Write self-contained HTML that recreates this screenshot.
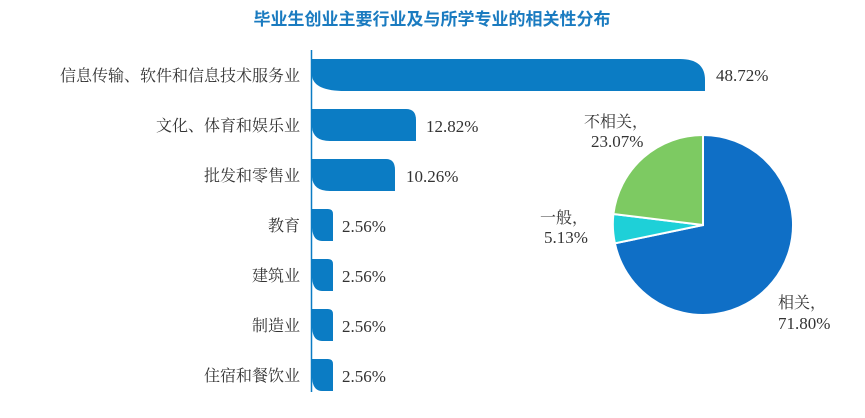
<!DOCTYPE html>
<html><head><meta charset="utf-8"><style>
body{margin:0;background:#fff;}
svg text{font-family:"Liberation Serif","Noto Serif CJK SC",serif;font-size:16px;fill:#333;}
svg text.v{font-size:17px;}
</style></head><body>
<svg width="865" height="413" viewBox="0 0 865 413" xmlns="http://www.w3.org/2000/svg">
<text x="432" y="25" text-anchor="middle" style="font-family:'Liberation Sans','Noto Sans CJK SC',sans-serif;font-size:17px;font-weight:bold;fill:#1a7bc0">毕业生创业主要行业及与所学专业的相关性分布</text>
<line x1="311.5" y1="50" x2="311.5" y2="392" stroke="#0b7cc4" stroke-width="1.5"/>
<g fill="#0b7cc4">
<path d="M312,59 H680 Q705,59 705,80 V91 H345 Q314,91 312,76 Z"/>
<path d="M312,109 H406 Q416,109 416,120 V141 H330 Q313,141 312,127 Z"/>
<path d="M312,159 H386 Q395,159 395,170 V191 H330 Q313,191 312,177 Z"/>
<path d="M312,209 H328 Q333,209 333,214 V241 H322 Q313,241 312,228 Z"/>
<path d="M312,259 H328 Q333,259 333,264 V291 H322 Q313,291 312,278 Z"/>
<path d="M312,309 H328 Q333,309 333,314 V341 H322 Q313,341 312,328 Z"/>
<path d="M312,359 H328 Q333,359 333,364 V391 H322 Q313,391 312,378 Z"/>
</g>
<g text-anchor="end">
<text x="300" y="81">信息传输、软件和信息技术服务业</text>
<text x="300" y="131">文化、体育和娱乐业</text>
<text x="300" y="181">批发和零售业</text>
<text x="300" y="231">教育</text>
<text x="300" y="281">建筑业</text>
<text x="300" y="331">制造业</text>
<text x="300" y="381">住宿和餐饮业</text>
</g>
<text class="v" x="716" y="81">48.72%</text>
<text class="v" x="426" y="132">12.82%</text>
<text class="v" x="406" y="182">10.26%</text>
<text class="v" x="342" y="232">2.56%</text>
<text class="v" x="342" y="282">2.56%</text>
<text class="v" x="342" y="332">2.56%</text>
<text class="v" x="342" y="382">2.56%</text>
<g stroke="#fff" stroke-width="2">
<path d="M703,225 L703,135 A90,90 0 1 1 614.9,243.3 Z" fill="#0f6fc6"/>
<path d="M703,225 L614.9,243.3 A90,90 0 0 1 613.4,214.0 Z" fill="#1ed0d8"/>
<path d="M703,225 L613.4,214.0 A90,90 0 0 1 703,135 Z" fill="#7dca62"/>
</g>
<text x="584" y="127">不相关，</text>
<text class="v" x="591" y="147">23.07%</text>
<text x="540" y="223">一般，</text>
<text class="v" x="544" y="243">5.13%</text>
<text x="778" y="308">相关，</text>
<text class="v" x="778" y="329">71.80%</text>
</svg>
</body></html>
